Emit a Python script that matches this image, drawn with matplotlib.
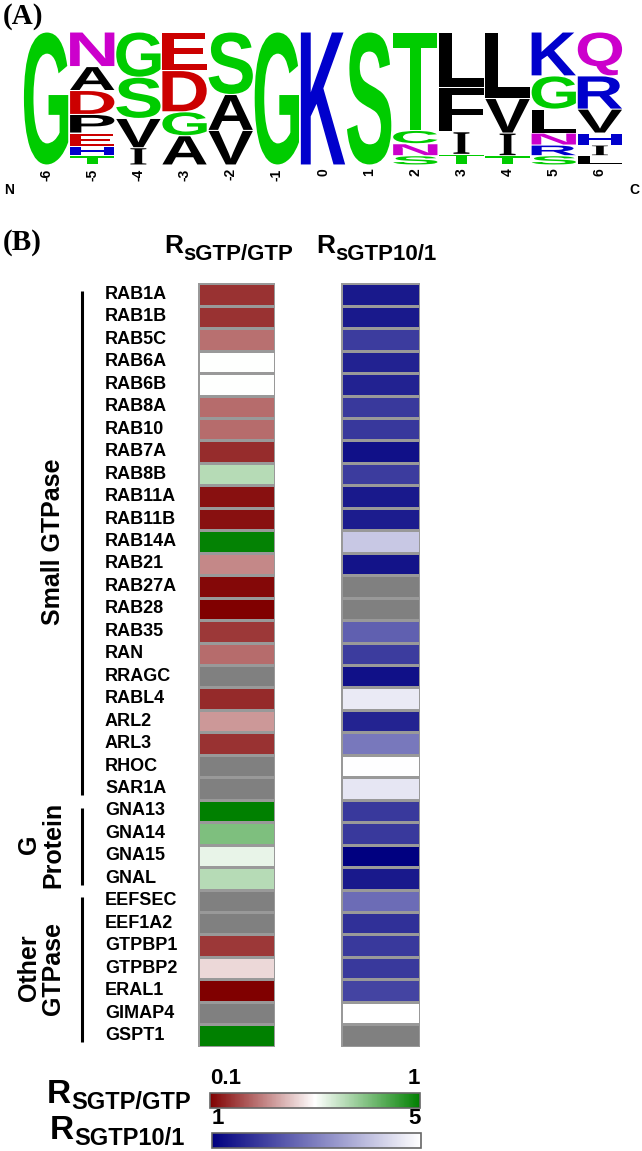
import numpy as np
import matplotlib
matplotlib.use('Agg')
import matplotlib.pyplot as plt
from matplotlib.colors import LinearSegmentedColormap, Normalize
from matplotlib.textpath import TextPath
from matplotlib.font_manager import FontProperties
from matplotlib.patches import PathPatch
from matplotlib.transforms import Affine2D, blended_transform_factory
import matplotlib.cm as cm

plt.rcParams['font.family'] = ['Liberation Sans', 'DejaVu Sans']

# ── Panel A: sequence logo (letters bottom -> top, relative heights) ──
POSITIONS = [-6, -5, -4, -3, -2, -1, 0, 1, 2, 3, 4, 5, 6]
LOGO_LETTERS = [
    ['G'],
    ['T', 'H', 'E', 'P', 'D', 'A', 'N'],
    ['I', 'V', 'S', 'G'],
    ['A', 'G', 'D', 'E'],
    ['V', 'A', 'S'],
    ['G'],
    ['K'],
    ['S'],
    ['S', 'N', 'C', 'T'],
    ['T', 'I', 'F', 'L'],
    ['T', 'I', 'V', 'L'],
    ['S', 'R', 'N', 'L', 'G', 'K'],
    ['L', 'I', 'H', 'V', 'R', 'Q'],
]
LOGO_HEIGHTS = [
    [1.0],
    [0.07, 0.07, 0.10, 0.14, 0.18, 0.18, 0.26],
    [0.13, 0.22, 0.31, 0.34],
    [0.22, 0.18, 0.31, 0.29],
    [0.26, 0.27, 0.47],
    [1.0],
    [1.0],
    [1.0],
    [0.07, 0.09, 0.10, 0.74],
    [0.08, 0.17, 0.33, 0.42],
    [0.07, 0.17, 0.26, 0.50],
    [0.07, 0.08, 0.09, 0.18, 0.25, 0.33],
    [0.07, 0.08, 0.09, 0.18, 0.25, 0.33],
]
LETTER_COLORS = {}
for c in 'GSTYC':
    LETTER_COLORS[c] = '#00cc00'
for c in 'KRH':
    LETTER_COLORS[c] = '#0000cc'
for c in 'DE':
    LETTER_COLORS[c] = '#cc0000'
for c in 'NQ':
    LETTER_COLORS[c] = '#cc00cc'
for c in 'AVLIPWFM':
    LETTER_COLORS[c] = '#000000'

# ── Panel B: heatmap values (nan = not determined, grey) ──
PROTEINS = ['RAB1A', 'RAB1B', 'RAB5C', 'RAB6A', 'RAB6B', 'RAB8A', 'RAB10', 'RAB7A',
            'RAB8B', 'RAB11A', 'RAB11B', 'RAB14A', 'RAB21', 'RAB27A', 'RAB28', 'RAB35',
            'RAN', 'RRAGC', 'RABL4', 'ARL2', 'ARL3', 'RHOC', 'SAR1A',
            'GNA13', 'GNA14', 'GNA15', 'GNAL',
            'EEFSEC', 'EEF1A2', 'GTPBP1', 'GTPBP2', 'ERAL1', 'GIMAP4', 'GSPT1']
R_SGTP_GTP = [0.19, 0.19, 0.30, 0.55, 0.55, 0.29, 0.29, 0.18,
              0.68, 0.13, 0.13, 0.99, 0.34, 0.115, 0.10, 0.20,
              0.29, np.nan, 0.175, 0.37, 0.19, np.nan, np.nan,
              1.0, 0.775, 0.59, 0.68,
              np.nan, np.nan, 0.20, 0.48, 0.10, np.nan, 1.0]
R_SGTP10_1 = [1.40, 1.40, 1.94, 1.54, 1.54, 1.90, 1.88, 1.25,
              1.94, 1.40, 1.44, 4.14, 1.31, np.nan, np.nan, 2.50,
              1.94, 1.25, 4.67, 1.56, 2.88, 4.98, 4.60,
              1.90, 1.90, 1.00, 1.40,
              2.70, 1.75, 1.90, 1.90, 2.07, 5.0, np.nan]
GROUP_NAMES = ['Small GTPase', 'G\nProtein', 'Other\nGTPase']
GROUP_SIZES = [23, 4, 7]
RG_RANGE = [0.1, 1]
BL_RANGE = [1, 5]

W, H = 642, 1151
def fx(px):
    return px / W
def fy(py):
    return 1 - py / H

fig = plt.figure(figsize=(W / 100, H / 100), dpi=100)

# ── (A) logo ──
fig.text(fx(3), fy(17), '(A)', family='Liberation Serif', fontweight='bold',
         fontsize=21, va='center', ha='left')

ax_logo = fig.add_axes([fx(23), fy(165), 600 / W, 133 / H])
ax_logo.set_xlim(-6.5, 6.5)
ax_logo.set_ylim(0, 1)
ax_logo.axis('off')

fp = FontProperties(family='Liberation Sans', weight='bold')
fp_i = FontProperties(family='Liberation Serif', weight='bold')

def draw_letter(ax, ch, x0, y0, w, h, color):
    prop = fp_i if ch == 'I' else fp
    tp = TextPath((0, 0), ch, size=1, prop=prop)
    bb = tp.get_extents()
    if ch == 'I':
        x0 = x0 + w * 0.32
        w = w * 0.36
    tr = (Affine2D().translate(-bb.x0, -bb.y0)
          .scale(w / bb.width, h / bb.height).translate(x0, y0))
    ax.add_patch(PathPatch(tr.transform_path(tp), fc=color, ec='none', lw=0))

col_w = 0.96
for pos, letters, heights in zip(POSITIONS, LOGO_LETTERS, LOGO_HEIGHTS):
    base = 0.0
    for ch, hgt in zip(letters, heights):
        draw_letter(ax_logo, ch, pos - col_w / 2, base + 0.004, col_w,
                    hgt - 0.008, LETTER_COLORS[ch])
        base += hgt
    ax_logo.text(pos, -0.025, str(pos), rotation=90, ha='center', va='top',
                 fontsize=10, fontweight='bold', clip_on=False)

fig.text(fx(9), fy(190), 'N', fontsize=10, fontweight='bold', ha='center', va='center')
fig.text(fx(634), fy(190), 'C', fontsize=10, fontweight='bold', ha='center', va='center')

# ── (B) heatmap ──
fig.text(fx(3), fy(243), '(B)', family='Liberation Serif', fontweight='bold',
         fontsize=21, va='center', ha='left')

def header(x_px, base_px, sub, big, small, dy):
    fig.text(fx(x_px), fy(base_px), 'R', fontsize=big, fontweight='bold',
             ha='left', va='baseline')
    r_w = big * 0.722 * 100 / 72
    fig.text(fx(x_px + r_w), fy(base_px + dy), sub, fontsize=small,
             fontweight='bold', ha='left', va='baseline')

header(164, 253, 'sGTP/GTP', 19, 16, 7)
header(316, 253, 'sGTP10/1', 19, 16, 7)

n = len(PROTEINS)
top, bottom = 283.3, 1046.7
rg_cmap = LinearSegmentedColormap.from_list('rg', ['#800000', '#ffffff', '#008000'])
rg_cmap.set_bad('#808080')
bl_cmap = LinearSegmentedColormap.from_list('bl', ['#000080', '#ffffff'])
bl_cmap.set_bad('#808080')

ax1 = fig.add_axes([fx(198), fy(bottom), 77 / W, (bottom - top) / H])
ax2 = fig.add_axes([fx(341), fy(bottom), 79 / W, (bottom - top) / H])
for ax, vals, cmap, rng in [(ax1, R_SGTP_GTP, rg_cmap, RG_RANGE),
                            (ax2, R_SGTP10_1, bl_cmap, BL_RANGE)]:
    arr = np.ma.masked_invalid(np.array(vals, dtype=float).reshape(-1, 1))
    ax.pcolormesh(arr, cmap=cmap, vmin=rng[0], vmax=rng[1],
                  edgecolors='#999999', linewidth=0.8)
    ax.set_xlim(0, 1)
    ax.set_ylim(n, 0)
    ax.axis('off')

lab_tr = blended_transform_factory(fig.transFigure, ax1.transData)
for i, name in enumerate(PROTEINS):
    ax1.text(fx(105), i + 0.5, name, transform=lab_tr, ha='left', va='center',
             fontsize=13, fontweight='bold')

start = 0
for gname, gsize in zip(GROUP_NAMES, GROUP_SIZES):
    y0 = start + 0.35
    y1 = start + gsize - 0.2
    ax1.plot([fx(82), fx(82)], [y0, y1], transform=lab_tr, color='black',
             lw=2.2, clip_on=False, solid_capstyle='butt')
    ax1.text(fx(65), start + gsize / 2, gname, transform=lab_tr, rotation=90,
             ha='right', va='center', fontsize=18, fontweight='bold',
             multialignment='center', linespacing=1.0)
    start += gsize

# ── colour scales ──
def scale_bar(x_px, y_px, w_px, h_px, cmap, rng, label_x, label_base, sub):
    cax = fig.add_axes([fx(x_px), fy(y_px + h_px), w_px / W, h_px / H])
    cb = fig.colorbar(cm.ScalarMappable(norm=Normalize(rng[0], rng[1]), cmap=cmap),
                      cax=cax, orientation='horizontal')
    cb.set_ticks([])
    cb.outline.set_edgecolor('#666666')
    cb.outline.set_linewidth(1.2)
    cax.text(0, 1.3, f'{rng[0]:g}', transform=cax.transAxes, ha='left',
             va='bottom', fontsize=16, fontweight='bold')
    cax.text(1, 1.3, f'{rng[1]:g}', transform=cax.transAxes, ha='right',
             va='bottom', fontsize=16, fontweight='bold')
    header(label_x, label_base, sub, 24, 17, 6)

scale_bar(210, 1093, 210, 15, rg_cmap, RG_RANGE, 47, 1103, 'SGTP/GTP')
scale_bar(212, 1133, 209, 15, bl_cmap, BL_RANGE, 50, 1139, 'SGTP10/1')

fig.savefig('out.png', dpi=100)
